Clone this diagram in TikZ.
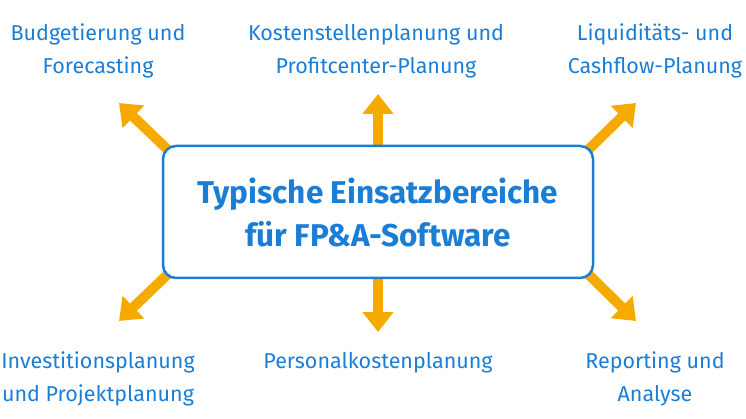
\documentclass[tikz,border=0pt]{standalone}
\usepackage{fontspec}
\setmainfont{Fira Sans}
\usetikzlibrary{arrows.meta}
\definecolor{fpblue}{HTML}{1A7ED6}
\definecolor{fporange}{HTML}{F5AA00}
\begin{document}
\begin{tikzpicture}[x=1pt,y=-1pt,
  lbl/.style={text=fpblue,font=\fontsize{21.5}{33}\selectfont,align=center,inner sep=0pt},
  hub/.style={draw=fpblue,line width=2.5pt,rounded corners=13pt,fill=white,minimum width=430pt,minimum height=132pt,text=fpblue,font=\bfseries\fontsize{31.5}{43}\selectfont,align=center},
  arr/.style={draw=fporange,line width=10pt,-{Triangle[width=30pt,length=20pt]}}]
\useasboundingbox (0,0) rectangle (746,419);
\coordinate (ul) at (119,103);
\coordinate (uc) at (378,94);
\coordinate (ur) at (636,103);
\coordinate (ll) at (119,321);
\coordinate (lc) at (378,332);
\coordinate (lr) at (636,321);
\coordinate (sul) at (168,150);
\coordinate (sur) at (588,150);
\coordinate (sll) at (168,274);
\coordinate (slr) at (588,274);
\coordinate (suc) at (378,150);
\coordinate (slc) at (378,274);
\draw[arr] (sul) -- (ul);
\draw[arr] (sur) -- (ur);
\draw[arr] (sll) -- (ll);
\draw[arr] (slr) -- (lr);
\draw[arr] (suc) -- (uc);
\draw[arr] (slc) -- (lc);
\node[hub] (hub) at (378,212) {Typische Einsatzbereiche\\für FP\&A-Software};
\node[lbl] (t1) at (98,51) {Budgetierung und\\Forecasting};
\node[lbl] (t2) at (376,51) {Kostenstellenplanung und\\Profitcenter-Planung};
\node[lbl] (t3) at (655,51) {Liquiditäts- und\\Cashflow-Planung};
\node[lbl] (b1) at (98,379) {Investitionsplanung\\und Projektplanung};
\node[lbl] (b2) at (378,363) {Personalkostenplanung};
\node[lbl] (b3) at (655,379) {Reporting und\\Analyse};
\end{tikzpicture}
\end{document}
